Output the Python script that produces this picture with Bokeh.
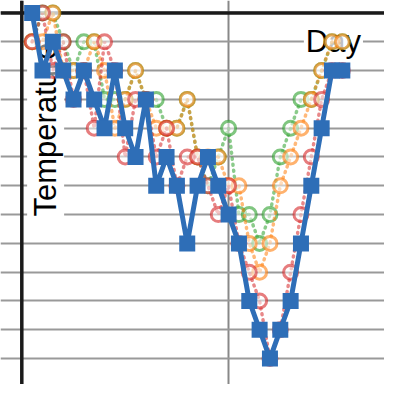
import numpy as np
from bokeh.plotting import figure
from bokeh.models import Range1d, Span, FixedTicker, ColumnDataSource
from bokeh.core.properties import value
from bokeh.embed import file_html
from bokeh.resources import INLINE

days = list(range(1, 32))
# temperatures (degrees); x-axis crosses at 0
temp_main = [0, -2, -1, -2, -3, -2, -3, -4, -2, -4, -5, -3, -6, -5, -6, -8,
             -6, -5, -6, -7, -8, -10, -11, -12, -11, -10, -8, -6, -4, -2, -2]
temp_red = [-1, 0, -2, -1, -3, -2, -4, -1, -2, -5, -3, -3, -5, -4, -6, -5,
            -5, -6, -7, -6, -8, -9, -10, -12, -11, -9, -7, -5, -3, -2, -2]
temp_orange = [-1, -1, 0, -2, -2, -2, -1, -2, -4, -3, -2, -3, -4, -4, -4, -3,
               -5, -5, -5, -6, -6, -8, -9, -8, -6, -5, -4, -3, -2, -1, -1]
temp_green = [-1, 0, 0, -1, -2, -1, -1, -3, -3, -3, -2, -3, -3, -4, -4, -3,
              -5, -6, -5, -4, -7, -7, -8, -7, -5, -4, -3, -3, -2, -1, -1]

# reference pixel frame -> scaled 384 px frame
x0_px, dx_px = 22.2, 10.77
y0_px, dy_px = 13.0, 30.0
xr = Range1d(-x0_px / dx_px, (400 - x0_px) / dx_px)
yr = Range1d(-(400 - y0_px) / dy_px, y0_px / dy_px)

p = figure(width=384, height=384, x_range=xr, y_range=yr,
           output_backend="svg", toolbar_location=None, min_border=0)
p.outline_line_color = None
p.axis.visible = False
p.ygrid.ticker = FixedTicker(ticks=list(range(-13, 1)))
p.xgrid.ticker = FixedTicker(ticks=[0, 20, 40])
p.grid.grid_line_color = "#999999"
p.grid.grid_line_width = 2
p.xgrid.grid_line_color = "#888888"

p.add_layout(Span(location=0, dimension="width", line_color="#1a1a1a",
                  line_width=3.5, level="underlay"))
p.add_layout(Span(location=0, dimension="height", line_color="#1a1a1a",
                  line_width=3.5, level="underlay"))

font = value("Liberation Sans")
p.text(x=[(47 - x0_px) / dx_px], y=[-(226 - y0_px) / dy_px], text=["Temperature"],
       angle=np.pi / 2, text_align="left", text_baseline="alphabetic",
       text_font=font, text_font_size="31px", text_color="black",
       background_fill_color="white", padding=1)
p.text(x=[(316 - x0_px) / dx_px], y=[-1.0], text=["Day"],
       text_align="left", text_baseline="alphabetic",
       text_font=font, text_font_size="31px", text_color="black",
       background_fill_color="white", padding=2)

for ys, col in [(temp_green, "#2ca02c"), (temp_orange, "#ff7f0e"), (temp_red, "#d62728")]:
    src = ColumnDataSource(dict(x=days, y=ys))
    p.line("x", "y", source=src, line_color=col, line_width=3.5, line_alpha=0.55,
           line_dash="1 5", line_cap="round")
    p.scatter("x", "y", source=src, marker="circle", size=14, line_color=col,
              line_width=3, line_alpha=0.6, fill_color="white", fill_alpha=0.5)

src = ColumnDataSource(dict(x=days, y=temp_main))
p.line("x", "y", source=src, line_color="#2e6eb7", line_width=5)
p.scatter("x", "y", source=src, marker="square", size=16, fill_color="#2e6eb7",
          line_color=None)

open("out.html", "w").write(file_html(p, INLINE))
